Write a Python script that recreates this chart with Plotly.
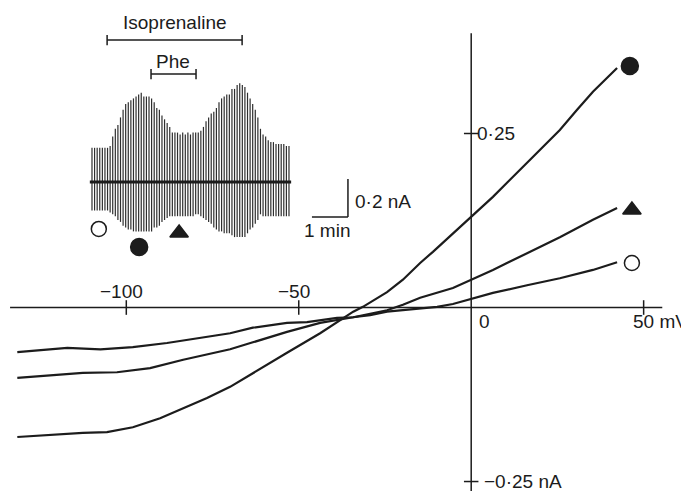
import numpy as np
import plotly.graph_objects as go

# ---------------- main I-V data (mV, nA) ----------------
v_fill = [-131.6, -122.1, -112.6, -105.6, -98.1, -90.2, -82.4, -76.6, -69.9, -63.3,
          -53.4, -43.8, -38.9, -34.2, -31.4, -24.4, -19.8, -14.8, -11.1, -3.2,
          0.1, 6.3, 16.2, 25.7, 30.7, 35.3, 42.3]
i_fill = [-0.186, -0.183, -0.180, -0.179, -0.172, -0.159, -0.143, -0.130, -0.114, -0.094,
          -0.065, -0.037, -0.021, -0.006, 0.001, 0.022, 0.040, 0.064, 0.080, 0.116,
          0.130, 0.159, 0.208, 0.255, 0.284, 0.310, 0.344]

v_tri = [-131.6, -122.1, -112.6, -102.7, -93.1, -83.5, -69.9, -63.3, -53.4, -43.8,
         -38.9, -34.2, -29.3, -24.4, -19.8, -14.8, -5.3, 0.1, 6.3, 16.2,
         25.7, 35.3, 42.3]
i_tri = [-0.101, -0.098, -0.094, -0.093, -0.087, -0.075, -0.060, -0.050, -0.035, -0.022,
         -0.018, -0.014, -0.009, -0.004, 0.004, 0.014, 0.028, 0.040, 0.054, 0.078,
         0.101, 0.126, 0.143]

v_open = [-131.6, -117.1, -107.5, -98.1, -88.2, -78.6, -69.9, -63.3, -53.4, -47.6,
          -38.9, -34.2, -29.3, -24.4, -19.8, -14.8, -9.9, -5.3, 0.1, 6.3,
          16.2, 25.7, 35.3, 42.3]
i_open = [-0.064, -0.058, -0.060, -0.057, -0.051, -0.044, -0.037, -0.029, -0.022, -0.021,
          -0.015, -0.014, -0.011, -0.006, -0.004, -0.001, 0.001, 0.005, 0.012, 0.021,
          0.032, 0.042, 0.054, 0.065]

# end-of-curve symbols
sym_v = [46.0, 46.6, 46.6]
sym_i = [0.347, 0.140, 0.064]

x_ticks = [-100, -50, 50]
x_tick_labels = ["\u2212100", "\u221250", "50 mV"]
y_ticks = [0.25, -0.25]
y_tick_labels = ["0\u00b725", "\u22120\u00b725 nA"]

# ---------------- inset data (min, nA) ----------------
ramp_interval = 0.072
ramp_hi = [0.18, 0.18, 0.18, 0.18, 0.18, 0.18, 0.18,
           0.19, 0.24, 0.28, 0.30, 0.34, 0.38, 0.41, 0.42, 0.43, 0.44,
           0.45, 0.46, 0.47, 0.45, 0.45, 0.45, 0.44, 0.42, 0.39, 0.38,
           0.35, 0.33, 0.31, 0.29, 0.26, 0.26, 0.26, 0.25, 0.26, 0.25,
           0.26, 0.25, 0.26,
           0.26, 0.26, 0.27, 0.29, 0.32, 0.34, 0.36, 0.37, 0.39, 0.42,
           0.44, 0.45, 0.46, 0.46, 0.49, 0.49, 0.51, 0.52, 0.51, 0.50,
           0.47, 0.44, 0.41, 0.38, 0.34, 0.28, 0.25, 0.24, 0.22, 0.21,
           0.21, 0.20, 0.20, 0.20, 0.20, 0.19, 0.19]
ramp_lo = [-0.15, -0.15, -0.15, -0.15, -0.15, -0.15, -0.15,
           -0.16, -0.17, -0.18, -0.20, -0.21, -0.23, -0.24, -0.25, -0.25, -0.26,
           -0.26, -0.26, -0.26, -0.26, -0.26, -0.26,
           -0.26, -0.24, -0.24, -0.23, -0.21, -0.20, -0.19,
           -0.18, -0.18, -0.18, -0.18, -0.18, -0.18, -0.18, -0.18, -0.18, -0.18,
           -0.17, -0.17, -0.18, -0.19, -0.20, -0.21, -0.22, -0.24, -0.25, -0.26,
           -0.26, -0.27, -0.27, -0.27, -0.28,
           -0.29, -0.29, -0.29, -0.29, -0.29,
           -0.27, -0.25, -0.24, -0.22, -0.20, -0.17,
           -0.18, -0.18, -0.18, -0.18, -0.18, -0.18, -0.18, -0.18, -0.18, -0.18, -0.18]
iso_period = [0.42, 4.17]
phe_period = [1.64, 2.89]
inset_sym_t = [0.19, 1.31, 2.42]
inset_sym_i = [-0.247, -0.342, -0.268]

INK = "#1c1c1c"
FONT = "Liberation Sans, Arial, Helvetica, sans-serif"
FS = 19

fig = go.Figure()

# ---- I-V curves ----
for v, i in [(v_fill, i_fill), (v_tri, i_tri), (v_open, i_open)]:
    fig.add_trace(go.Scatter(x=v, y=i, mode="lines",
                             line=dict(color=INK, width=2.2), hoverinfo="skip",
                             showlegend=False))
fig.add_trace(go.Scatter(
    x=sym_v, y=sym_i, mode="markers", showlegend=False, hoverinfo="skip",
    marker=dict(symbol=["circle", "triangle-up", "circle-open"],
                size=[17, 16, 15], color=INK, opacity=1,
                line=dict(color=INK, width=1.5))))

# ---- inset ramp trace ----
n = len(ramp_hi)
ramp_t = np.arange(n) * ramp_interval
xs, ys = [], []
for t, lo, hi in zip(ramp_t, ramp_lo, ramp_hi):
    xs += [t, t, None]
    ys += [lo, hi, None]
fig.add_trace(go.Scatter(x=xs, y=ys, mode="lines", xaxis="x2", yaxis="y2",
                         line=dict(color="#2e2e2e", width=1.2), hoverinfo="skip",
                         showlegend=False))
fig.add_trace(go.Scatter(x=[ramp_t[0] - 0.06, ramp_t[-1] + 0.06], y=[0, 0],
                         mode="lines", xaxis="x2", yaxis="y2",
                         line=dict(color=INK, width=2.8), hoverinfo="skip",
                         showlegend=False))
fig.add_trace(go.Scatter(
    x=inset_sym_t, y=inset_sym_i, mode="markers", xaxis="x2", yaxis="y2",
    showlegend=False, hoverinfo="skip",
    marker=dict(symbol=["circle-open", "circle", "triangle-up"],
                size=[15, 17, 16], color=INK, opacity=1,
                line=dict(color=INK, width=1.5))))

shapes = []
line = dict(color=INK, width=1.5)
# main axes
shapes.append(dict(type="line", xref="x", yref="y", x0=-133.7, x1=55.4, y0=0, y1=0, line=line))
shapes.append(dict(type="line", xref="x", yref="y", x0=0, x1=0, y0=0.394, y1=-0.28, line=line))
for xt in x_ticks:
    shapes.append(dict(type="line", xref="x", yref="y", x0=xt, x1=xt,
                       y0=-0.0105, y1=0.0105, line=line))
for yt in y_ticks:
    shapes.append(dict(type="line", xref="x", yref="y", x0=-2.1, x1=2.1,
                       y0=yt, y1=yt, line=line))

# inset bars
for (a, b), yb in [(iso_period, 0.747), (phe_period, 0.568)]:
    shapes.append(dict(type="line", xref="x2", yref="y2", x0=a, x1=b, y0=yb, y1=yb, line=line))
    for xx in (a, b):
        shapes.append(dict(type="line", xref="x2", yref="y2", x0=xx, x1=xx,
                           y0=yb - 0.027, y1=yb + 0.027, line=line))
# scale bar (1 min, 0.2 nA)
shapes.append(dict(type="line", xref="x2", yref="y2", x0=7.11, x1=7.11,
                   y0=-0.184, y1=0.016, line=line))
shapes.append(dict(type="line", xref="x2", yref="y2", x0=6.11, x1=7.11,
                   y0=-0.184, y1=-0.184, line=line))

ann = []
def txt(x, y, s, xa="center", xref="x", yref="y", xshift=0):
    ann.append(dict(x=x, y=y, text=s, xref=xref, yref=yref, xanchor=xa,
                    yanchor="middle", showarrow=False, xshift=xshift,
                    font=dict(family=FONT, size=FS, color=INK)))

txt(x_ticks[0], 0.0227, x_tick_labels[0], xshift=-5)
txt(x_ticks[1], 0.0227, x_tick_labels[1], xshift=-5)
txt(46.3, -0.0204, x_tick_labels[2], xa="left")
txt(3.9, -0.0204, "0")
txt(1.1, y_ticks[0], y_tick_labels[0], xa="left")
txt(3.0, y_ticks[1], y_tick_labels[1], xa="left")
txt(2.31, 0.842, "Isoprenaline", xref="x2", yref="y2")
txt(2.25, 0.632, "Phe", xref="x2", yref="y2")
txt(7.25, -0.105, "0\u00b72 nA", xa="left", xref="x2", yref="y2")
txt(6.53, -0.253, "1 min", xref="x2", yref="y2")

# the page body adds an 8 px offset, so ranges start 8 px into the picture
fig.update_layout(
    width=689, height=491,
    margin=dict(l=0, r=0, t=0, b=0),
    paper_bgcolor="white", plot_bgcolor="white",
    showlegend=False,
    xaxis=dict(range=[-134.30, 65.47], visible=False, fixedrange=True),
    yaxis=dict(range=[-0.2751, 0.4303], visible=False, fixedrange=True),
    xaxis2=dict(range=[-2.333, 16.806], visible=False, overlaying="x",
                anchor="y2", fixedrange=True),
    yaxis2=dict(range=[-1.6684, 0.9158], visible=False, overlaying="y",
                anchor="x2", fixedrange=True),
    shapes=shapes, annotations=ann,
)

fig.write_html("out.html", config={"displayModeBar": False})
